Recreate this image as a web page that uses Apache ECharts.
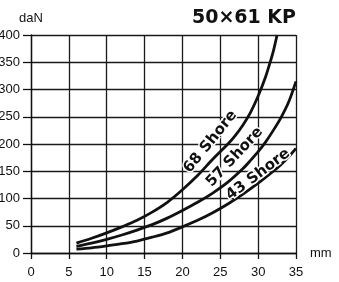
<!DOCTYPE html>
<html>
<head>
<meta charset="utf-8">
<script src="https://cdn.jsdelivr.net/npm/echarts@6/dist/echarts.min.js"></script>
<style>html,body{margin:0;padding:0;background:#fff}#c{width:339px;height:282px}</style>
</head>
<body>
<div id="c"></div>
<script>
// Data (x in mm, y in daN)
const shore68X = [6, 8, 10, 12, 14, 16, 18, 20, 22, 24, 26, 27, 28, 29, 30, 31, 31.5, 32, 32.5];
const shore68Y = [18, 27, 37, 48, 60, 75, 93, 116, 142, 172, 200, 216, 235, 258, 288, 324, 346, 370, 400];
const shore57X = [6, 8, 10, 12, 14, 16, 18, 20, 22, 24, 26, 28, 29, 30, 31, 32, 33, 34, 35];
const shore57Y = [12, 18, 25, 33, 42, 52, 64, 78, 93, 110, 130, 155, 170, 186, 204, 225, 248, 276, 315];
const shore43X = [6, 8, 10, 12, 14, 16, 18, 20, 22, 24, 26, 28, 30, 32, 33, 34, 35];
const shore43Y = [7, 9.5, 13, 17, 22, 29, 37, 48, 60, 74, 90, 108, 128, 150, 162, 176, 192];
const seriesNames = ['68 Shore', '57 Shore', '43 Shore'];
const titleText = '50×61 KP';
const xTicks = [0, 5, 10, 15, 20, 25, 30, 35];
const yTicks = [0, 50, 100, 150, 200, 250, 300, 350, 400];
// label anchors (data coordinates) and angles for curve names
const labelAnchorX = [23.7, 26.9, 30.0];
const labelAnchorY = [204, 176, 144];
const labelAngle = [51, 47, 37];

const pairs = (xs, ys) => xs.map((x, i) => [x, ys[i]]);
const curves = [pairs(shore68X, shore68Y), pairs(shore57X, shore57Y), pairs(shore43X, shore43Y)];

const chart = echarts.init(document.getElementById('c'), null, {renderer: 'canvas'});
const axisFont = {fontFamily: 'Liberation Sans', fontSize: 13, color: '#111'};
chart.setOption({
  animation: false,
  backgroundColor: '#fff',
  graphic: [{
    type: 'text', right: 43, top: 9,
    style: {text: titleText, fontFamily: 'DejaVu Sans', fontWeight: 'bold', fontSize: 19, fill: '#111'}
  }],
  grid: {left: 31, right: 43, top: 35, bottom: 29, outerBoundsMode: 'none'},
  xAxis: {
    type: 'value', min: xTicks[0], max: xTicks[xTicks.length - 1], interval: 5,
    name: 'mm', nameLocation: 'end', nameGap: 14,
    nameTextStyle: Object.assign({verticalAlign: 'middle'}, axisFont),
    axisLine: {show: true, lineStyle: {color: '#111', width: 1.3}},
    axisTick: {show: true, length: 6, lineStyle: {color: '#111', width: 1.3}},
    axisLabel: Object.assign({margin: 13}, axisFont),
    splitLine: {show: true, lineStyle: {color: '#1a1a1a', width: 1.3}}
  },
  yAxis: {
    type: 'value', min: yTicks[0], max: yTicks[yTicks.length - 1], interval: 50,
    name: 'daN', nameLocation: 'end', nameGap: 10,
    nameTextStyle: axisFont,
    axisLine: {show: true, lineStyle: {color: '#111', width: 1.3}},
    axisTick: {show: true, length: 8, lineStyle: {color: '#111', width: 1.3}},
    axisLabel: Object.assign({margin: 11}, axisFont),
    splitLine: {show: true, lineStyle: {color: '#1a1a1a', width: 1.3}}
  },
  series: curves.map((d, i) => ({
    name: seriesNames[i], type: 'line', data: d, smooth: 0.3,
    symbol: 'none', clip: true,
    lineStyle: {color: '#111', width: 2.8},
    markPoint: {
      symbol: 'circle', symbolSize: 0, silent: true,
      data: [{coord: [labelAnchorX[i], labelAnchorY[i]]}],
      label: {
        show: true, position: 'inside', formatter: seriesNames[i], rotate: labelAngle[i],
        fontFamily: 'DejaVu Sans', fontWeight: 'bold', fontSize: 15, color: '#111',
        textBorderColor: '#fff', textBorderWidth: 3
      }
    }
  }))
});
</script>
</body>
</html>
